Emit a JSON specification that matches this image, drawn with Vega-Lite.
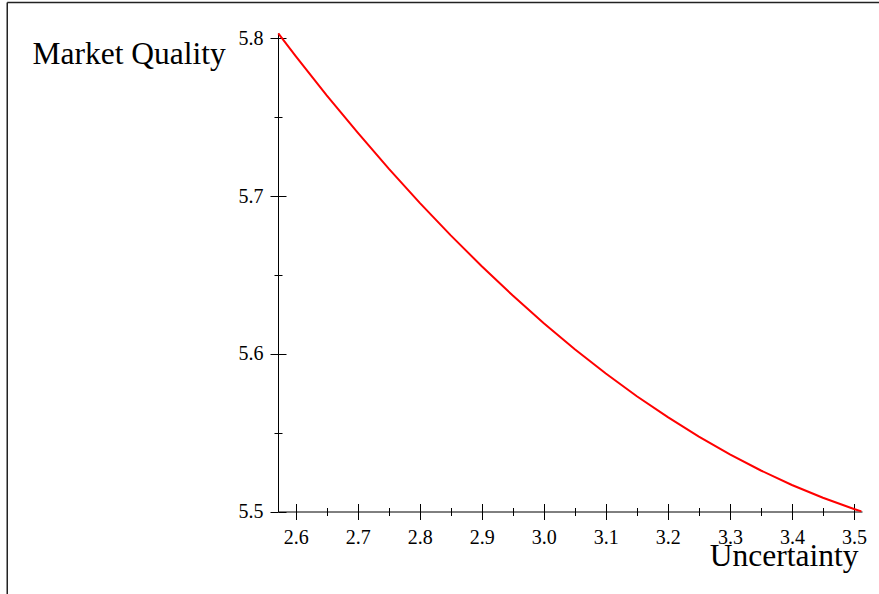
{
  "$schema": "https://vega.github.io/schema/vega-lite/v6.json",
  "width": 584,
  "height": 478.5,
  "autosize": {"type": "none"},
  "padding": {"left": 278, "top": 33, "right": 17, "bottom": 82.5},
  "background": "white",
  "config": {
    "view": {"stroke": null},
    "axis": {
      "grid": false,
      "domainColor": "black",
      "domainWidth": 1,
      "tickColor": "black",
      "tickWidth": 1,
      "labelFont": "Liberation Serif",
      "labelFontSize": 20,
      "labelColor": "black",
      "labelFlush": false,
      "labelOverlap": false,
      "titleFont": "Liberation Serif",
      "titleFontSize": 31.5,
      "titleFontWeight": "normal",
      "titleColor": "black"
    }
  },
  "datasets": {
    "curve": [
      {"u": 2.572, "q": 5.8031},
      {"u": 2.60, "q": 5.7888},
      {"u": 2.65, "q": 5.7639},
      {"u": 2.70, "q": 5.7402},
      {"u": 2.75, "q": 5.7174},
      {"u": 2.80, "q": 5.6957},
      {"u": 2.85, "q": 5.6751},
      {"u": 2.90, "q": 5.6555},
      {"u": 2.95, "q": 5.6369},
      {"u": 3.00, "q": 5.6194},
      {"u": 3.05, "q": 5.6029},
      {"u": 3.10, "q": 5.5875},
      {"u": 3.15, "q": 5.5731},
      {"u": 3.20, "q": 5.5598},
      {"u": 3.25, "q": 5.5475},
      {"u": 3.30, "q": 5.5362},
      {"u": 3.35, "q": 5.5260},
      {"u": 3.40, "q": 5.5168},
      {"u": 3.45, "q": 5.5087},
      {"u": 3.50, "q": 5.5016},
      {"u": 3.512, "q": 5.5001}
    ],
    "frame": [
      {"x": 2.135, "x2": 3.6, "y": 5.8228, "y2": 5.8228},
      {"x": 2.135, "x2": 2.135, "y": 5.8228, "y2": 5.4}
    ]
  },
  "resolve": {"axis": {"x": "independent", "y": "independent"}},
  "layer": [
    {
      "data": {"name": "curve"},
      "mark": {"type": "line", "color": "#ff0000", "strokeWidth": 2},
      "encoding": {
        "x": {
          "field": "u", "type": "quantitative",
          "scale": {"domain": [2.5715, 3.513], "nice": false, "zero": false},
          "axis": {
            "orient": "bottom",
            "values": [2.6, 2.7, 2.8, 2.9, 3.0, 3.1, 3.2, 3.3, 3.4, 3.5],
            "format": ".1f",
            "tickSize": 8,
            "labelPadding": 8,
            "title": "Uncertainty",
            "titleAlign": "right",
            "titleAnchor": null,
            "titleX": 580,
            "titleY": 53.5,
            "titleBaseline": "alphabetic"
          }
        },
        "y": {
          "field": "q", "type": "quantitative",
          "scale": {"domain": [5.5, 5.8034], "nice": false, "zero": false},
          "axis": {
            "orient": "left",
            "values": [5.5, 5.6, 5.7, 5.8],
            "format": ".1f",
            "tickSize": 8,
            "labelPadding": 7,
            "title": "Market Quality",
            "titleAngle": 0,
            "titleAlign": "left",
            "titleAnchor": null,
            "titleX": -246,
            "titleY": 30.3,
            "titleBaseline": "alphabetic"
          }
        }
      }
    },
    {
      "data": {"name": "curve"},
      "mark": {"type": "line", "strokeOpacity": 0},
      "encoding": {
        "x": {
          "field": "u", "type": "quantitative",
          "axis": {"orient": "bottom", "offset": -8, "values": [2.6, 2.7, 2.8, 2.9, 3.0, 3.1, 3.2, 3.3, 3.4, 3.5], "tickSize": 8, "labels": false, "domain": false, "title": null}
        },
        "y": {
          "field": "q", "type": "quantitative",
          "axis": {"orient": "left", "offset": -8, "values": [5.5, 5.6, 5.7, 5.8], "tickSize": 8, "labels": false, "domain": false, "title": null}
        }
      }
    },
    {
      "data": {"name": "curve"},
      "mark": {"type": "line", "strokeOpacity": 0},
      "encoding": {
        "x": {
          "field": "u", "type": "quantitative",
          "axis": {"orient": "bottom", "values": [2.65, 2.75, 2.85, 2.95, 3.05, 3.15, 3.25, 3.35, 3.45], "tickSize": 4, "labels": false, "domain": false, "title": null}
        },
        "y": {
          "field": "q", "type": "quantitative",
          "axis": {"orient": "left", "values": [5.55, 5.65, 5.75], "tickSize": 4, "labels": false, "domain": false, "title": null}
        }
      }
    },
    {
      "data": {"name": "curve"},
      "mark": {"type": "line", "strokeOpacity": 0},
      "encoding": {
        "x": {
          "field": "u", "type": "quantitative",
          "axis": {"orient": "bottom", "offset": -4, "values": [2.65, 2.75, 2.85, 2.95, 3.05, 3.15, 3.25, 3.35, 3.45], "tickSize": 4, "labels": false, "domain": false, "title": null}
        },
        "y": {
          "field": "q", "type": "quantitative",
          "axis": {"orient": "left", "offset": -4, "values": [5.55, 5.65, 5.75], "tickSize": 4, "labels": false, "domain": false, "title": null}
        }
      }
    },
    {
      "data": {"name": "frame"},
      "mark": {"type": "rule", "color": "#222222", "strokeWidth": 1.5},
      "encoding": {
        "x": {"field": "x", "type": "quantitative", "axis": null},
        "x2": {"field": "x2"},
        "y": {"field": "y", "type": "quantitative", "axis": null},
        "y2": {"field": "y2"}
      }
    }
  ]
}
